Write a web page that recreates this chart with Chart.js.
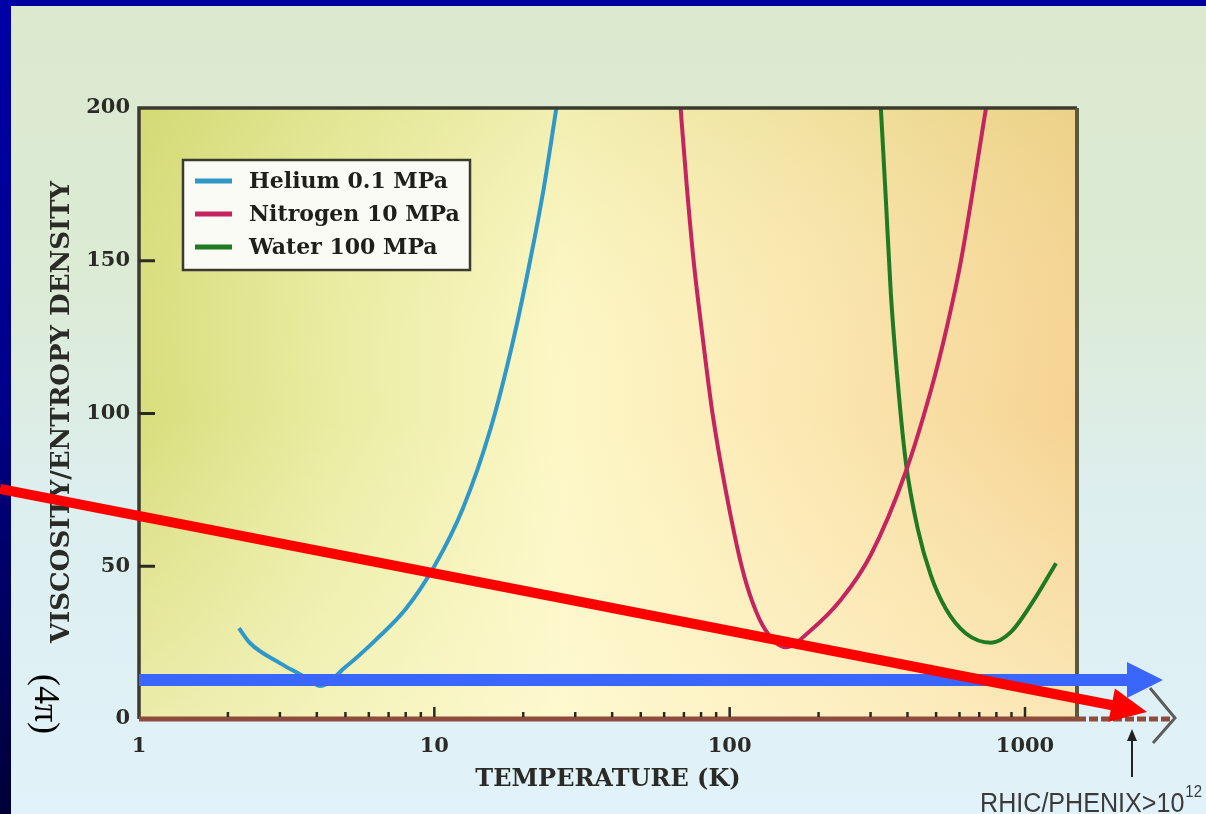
<!DOCTYPE html>
<html>
<head>
<meta charset="utf-8">
<script src="https://cdn.jsdelivr.net/npm/chart.js@4.4.1/dist/chart.umd.min.js"></script>
<style>
html,body{margin:0;padding:0;}
body{width:1206px;height:814px;overflow:hidden;position:relative;
  background:linear-gradient(180deg,#dbe9cf 0%,#dcebd5 35%,#ddeeee 60%,#e1f2fa 100%);}
#topBar{position:absolute;left:0;top:0;width:1206px;height:6px;background:#0000a0;}
#leftBar{position:absolute;left:0;top:0;width:11px;height:814px;
  background:linear-gradient(180deg,#0000a8 0%,#000088 50%,#000038 100%);}
canvas{position:absolute;left:0;top:0;}
</style>
</head>
<body>
<div id="topBar"></div>
<div id="leftBar"></div>
<canvas id="chart" width="1206" height="814"></canvas>
<script>
// viscosity / entropy density vs temperature
const heliumT = [2.18, 2.38, 3.0, 3.6, 4.1, 5.0, 6.35, 8.0, 10, 12.5, 15.5, 18.4, 21.1, 23.4, 25.9];
const heliumRatio = [29.7, 24.8, 18.3, 14, 10.8, 17, 26, 36, 50, 69, 95, 123, 150, 173, 200];

const nitrogenT = [68.2, 71.5, 75.5, 81, 87.5, 96.9, 109.8, 119.7, 132.4, 154.8, 188, 238, 300, 395, 480, 540, 607, 738];
const nitrogenRatio = [200, 175, 150, 125, 100, 75, 50, 38, 29, 23.5, 29, 39, 53.6, 81, 107.5, 127, 150, 200];

const waterT = [325, 338, 351, 371, 395, 434, 480, 540, 631, 767, 897, 1089, 1274];
const waterRatio = [200, 170, 140, 110, 84, 62, 47, 36, 28, 25, 28.5, 40, 51];

const seriesNames = ['Helium 0.1 MPa', 'Nitrogen 10 MPa', 'Water 100 MPa'];
const xTickLabels = [1, 10, 100, 1000];
const yTicks = [0, 50, 100, 150, 200];

const SERIF = '"DejaVu Serif", serif';
const pts = (xs, ys) => xs.map((x, i) => ({x, y: ys[i]}));

// 2..9 minor ticks in every decade up to the axis max
const xMax = 1500;
const xTicks = [];
for (let d = 1; d <= 1000; d *= 10) for (let m = 1; m <= 9; m++) if (m * d <= xMax) xTicks.push(m * d);

function arrow(ctx, x1, y1, x2, y2, color, w, headLen, headHalf) {
  const ang = Math.atan2(y2 - y1, x2 - x1);
  const bx = x2 - Math.cos(ang) * headLen, by = y2 - Math.sin(ang) * headLen;
  ctx.strokeStyle = color; ctx.fillStyle = color; ctx.lineWidth = w; ctx.lineCap = 'butt';
  ctx.beginPath(); ctx.moveTo(x1, y1); ctx.lineTo(bx + Math.cos(ang) * 2, by + Math.sin(ang) * 2); ctx.stroke();
  ctx.beginPath();
  ctx.moveTo(x2, y2);
  ctx.lineTo(bx + Math.sin(ang) * headHalf, by - Math.cos(ang) * headHalf);
  ctx.lineTo(bx - Math.sin(ang) * headHalf, by + Math.cos(ang) * headHalf);
  ctx.closePath(); ctx.fill();
}

const decor = {
  id: 'decor',
  beforeDatasetsDraw(chart) {
    const {ctx, chartArea: a} = chart;
    ctx.save();
    const g = ctx.createLinearGradient(a.left, 0, a.right, 0);
    g.addColorStop(0, '#d8dd7c');
    g.addColorStop(0.2, '#e8eca0');
    g.addColorStop(0.45, '#fdf7c6');
    g.addColorStop(0.7, '#fbe8b2');
    g.addColorStop(1, '#f6d393');
    ctx.fillStyle = g;
    ctx.fillRect(a.left, a.top, a.width, a.height);
    const v = ctx.createLinearGradient(0, a.top, 0, a.bottom);
    v.addColorStop(0, 'rgba(190,200,80,0.18)');
    v.addColorStop(0.5, 'rgba(255,250,215,0)');
    v.addColorStop(1, 'rgba(255,250,215,0.5)');
    ctx.fillStyle = v;
    ctx.fillRect(a.left, a.top, a.width, a.height);
    ctx.restore();
  },
  afterDatasetsDraw(chart) {
    const {ctx, chartArea: a, scales: {x, y}} = chart;
    ctx.save();

    // frame
    ctx.strokeStyle = '#3a3a2e'; ctx.lineWidth = 3.5;
    ctx.beginPath();
    ctx.moveTo(a.left, a.bottom); ctx.lineTo(a.left, a.top); ctx.lineTo(a.right, a.top);
    ctx.stroke();
    ctx.strokeStyle = '#5a5840'; ctx.lineWidth = 4;
    ctx.beginPath(); ctx.moveTo(a.right, a.top); ctx.lineTo(a.right, a.bottom); ctx.stroke();

    // x axis line and its dashed continuation
    ctx.strokeStyle = '#8e4c3c'; ctx.lineWidth = 5;
    ctx.beginPath(); ctx.moveTo(a.left, a.bottom); ctx.lineTo(a.right, a.bottom); ctx.stroke();
    ctx.setLineDash([9, 3]);
    ctx.beginPath(); ctx.moveTo(a.right, a.bottom); ctx.lineTo(a.right + 96, a.bottom); ctx.stroke();
    ctx.setLineDash([]);
    ctx.strokeStyle = '#5c5c5c'; ctx.lineWidth = 3;
    ctx.beginPath();
    ctx.moveTo(a.right + 73, a.bottom - 31); ctx.lineTo(a.right + 98, a.bottom - 1); ctx.lineTo(a.right + 76, a.bottom + 24);
    ctx.stroke();

    // ticks
    ctx.strokeStyle = '#2a2a22'; ctx.lineWidth = 2.5;
    x.ticks.forEach(t => {
      if (t.value === 1) return;
      const px = x.getPixelForValue(t.value);
      const len = xTickLabels.includes(t.value) ? 10 : 5;
      ctx.beginPath(); ctx.moveTo(px, a.bottom - 2); ctx.lineTo(px, a.bottom - 2 - len); ctx.stroke();
    });
    ctx.lineWidth = 3;
    y.ticks.forEach(t => {
      if (t.value === 0 || t.value === 200) return;
      const py = y.getPixelForValue(t.value);
      ctx.beginPath(); ctx.moveTo(a.left, py); ctx.lineTo(a.left + 16, py); ctx.stroke();
    });

    // legend box
    const lx = 183, ly = 160, lw = 287, lh = 110;
    ctx.fillStyle = '#fbfbf6';
    ctx.fillRect(lx, ly, lw, lh);
    ctx.strokeStyle = '#3a3a2e'; ctx.lineWidth = 2.5;
    ctx.strokeRect(lx, ly, lw, lh);
    ctx.font = 'bold 22px ' + SERIF;
    ctx.textBaseline = 'middle'; ctx.textAlign = 'left';
    chart.data.datasets.forEach((ds, i) => {
      const ry = ly + 21 + i * 33;
      ctx.strokeStyle = ds.borderColor; ctx.lineWidth = 5;
      ctx.beginPath(); ctx.moveTo(lx + 12, ry); ctx.lineTo(lx + 49, ry); ctx.stroke();
      ctx.fillStyle = '#1e1e1a';
      ctx.fillText(ds.label, lx + 66, ry + 1);
    });

    // axis titles
    ctx.fillStyle = '#2a2a26';
    ctx.textAlign = 'center';
    ctx.font = 'bold 24px ' + SERIF;
    ctx.fillText('TEMPERATURE (K)', 608, 780);
    ctx.save();
    ctx.translate(62, 412); ctx.rotate(-Math.PI / 2);
    ctx.font = 'bold 26px ' + SERIF;
    ctx.fillText('VISCOSITY/ENTROPY DENSITY', 0, 0);
    ctx.restore();
    ctx.save();
    ctx.translate(44, 704); ctx.rotate(Math.PI / 2);
    ctx.fillStyle = '#000';
    ctx.font = '36px "Liberation Serif", serif';
    ctx.fillText('(4\u03c0)', 0, 0);
    ctx.restore();

    // overlay arrows
    arrow(ctx, a.left, 680, 1163, 680, '#3a66fb', 12, 36, 18);
    arrow(ctx, 0, 489, 1147, 712, '#ff0000', 10, 36, 17);
    arrow(ctx, 1132, 777, 1132, 729, '#222', 2, 12, 5);

    // RHIC note, slightly condensed sans
    ctx.save();
    ctx.translate(980, 812);
    ctx.scale(0.93, 1);
    ctx.fillStyle = '#3a3a3a';
    ctx.textAlign = 'left'; ctx.textBaseline = 'alphabetic';
    ctx.font = '27px "Liberation Sans", Arial, sans-serif';
    const base = 'RHIC/PHENIX>10';
    ctx.fillText(base, 0, 0);
    const w = ctx.measureText(base).width;
    ctx.font = '16px "Liberation Sans", Arial, sans-serif';
    ctx.fillText('12', w + 1, -15);
    const w2 = ctx.measureText('12').width;
    ctx.font = '27px "Liberation Sans", Arial, sans-serif';
    ctx.fillText('K', w + w2 + 4, 0);
    ctx.restore();

    ctx.restore();
  }
};

new Chart(document.getElementById('chart'), {
  type: 'line',
  data: {
    datasets: [
      {label: seriesNames[0], data: pts(heliumT, heliumRatio), borderColor: '#2f98c9'},
      {label: seriesNames[1], data: pts(nitrogenT, nitrogenRatio), borderColor: '#c42460'},
      {label: seriesNames[2], data: pts(waterT, waterRatio), borderColor: '#1f7a22'}
    ].map(d => Object.assign(d, {borderWidth: 4, pointRadius: 0, fill: false, cubicInterpolationMode: 'monotone'}))
  },
  options: {
    responsive: false,
    animation: false,
    layout: {padding: {left: 0, top: 108, right: 129, bottom: 0}},
    plugins: {legend: {display: false}, tooltip: {enabled: false}},
    scales: {
      x: {
        type: 'logarithmic', min: 1, max: xMax,
        grid: {display: false, drawTicks: false}, border: {display: false},
        afterBuildTicks: s => { s.ticks = xTicks.map(v => ({value: v})); },
        afterFit: s => { s.height = 95; },
        ticks: {
          autoSkip: false, maxRotation: 0, padding: 15, color: '#2a2a26',
          font: {family: SERIF, weight: 'bold', size: 21},
          callback: v => xTickLabels.includes(v) ? String(v) : ''
        }
      },
      y: {
        min: 0, max: 200,
        grid: {display: false, drawTicks: false}, border: {display: false},
        afterBuildTicks: s => { s.ticks = yTicks.map(v => ({value: v})); },
        afterFit: s => { s.width = 139; },
        ticks: {padding: 9, color: '#2a2a26', font: {family: SERIF, weight: 'bold', size: 21}}
      }
    }
  },
  plugins: [decor]
});
</script>
</body>
</html>
